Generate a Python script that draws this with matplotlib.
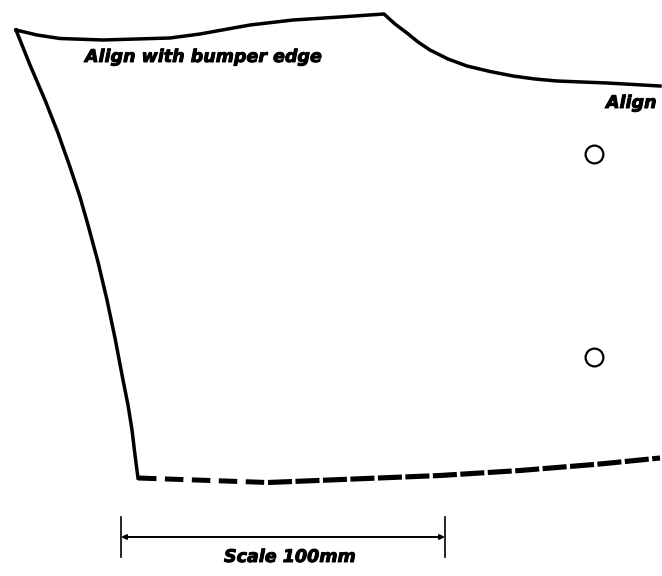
import matplotlib
matplotlib.use("Agg")
import matplotlib.pyplot as plt
from matplotlib import patheffects

# everything in pixels, y pointing down
top_x = [16, 37, 60, 103, 170, 200, 250, 293, 340, 384, 395, 407, 418, 430, 448, 467, 490, 513, 535, 557, 607, 660]
top_y = [30, 35, 38.5, 40, 38, 34, 25, 20, 17, 14, 24, 33, 42, 50, 59, 66, 71.5, 76, 79, 81, 83, 86]
left_x = [16, 30, 45, 58, 70, 80, 88, 98, 107, 115, 123, 128, 132, 135, 138]
left_y = [30, 65, 100, 133, 167, 197, 225, 262, 300, 338, 380, 405, 430, 455, 478]
bottom_a_x = [138, 268]
bottom_a_y = [478, 482.5]
bottom_b_x = [268, 440, 520, 600, 660]
bottom_b_y = [482.5, 475.5, 470.5, 464, 458]
hole_x = [594, 594]
hole_y = [154, 357]
scale_x = [121, 445]
scale_y = 537
scale_tick = [517, 557]
labels = ["Align with bumper edge", "Align", "Scale 100mm"]
label_x = [85, 606, 224]
label_y = [57, 103, 557]

plt.rcParams["lines.scale_dashes"] = False

fig = plt.figure(figsize=(6.62, 5.76), dpi=100)
ax = fig.add_axes([0, 0, 1, 1])
ax.set_xlim(0, 662)
ax.set_ylim(576, 0)
ax.axis("off")

ax.plot(top_x, top_y, color="black", lw=2.5, solid_joinstyle="round")
ax.plot(left_x, left_y, color="black", lw=2.5, solid_joinstyle="round")
ax.plot(bottom_a_x, bottom_a_y, color="black", lw=3.6, dashes=(13.3, 6.1), dash_capstyle="butt")
ax.plot(bottom_b_x, bottom_b_y, color="black", lw=3.7, dashes=(17.3, 2.5), dash_capstyle="butt")

ax.plot(hole_x, hole_y, "o", ms=12.8, mfc="white", mec="black", mew=1.6)

for x in scale_x:
    ax.plot([x, x], scale_tick, color="black", lw=1.2)
ax.annotate("", xy=(scale_x[0], scale_y), xytext=(scale_x[1], scale_y),
            arrowprops=dict(arrowstyle="<|-|>", color="black", lw=1.4, shrinkA=0, shrinkB=0, mutation_scale=7))

for s, x, y in zip(labels, label_x, label_y):
    t = ax.text(x, y, s, family="DejaVu Sans", weight="bold", style="italic",
                fontsize=12.6, va="center", ha="left", color="black")
    t.set_path_effects([patheffects.withStroke(linewidth=0.7, foreground="black")])

fig.savefig("out.png", dpi=100)
